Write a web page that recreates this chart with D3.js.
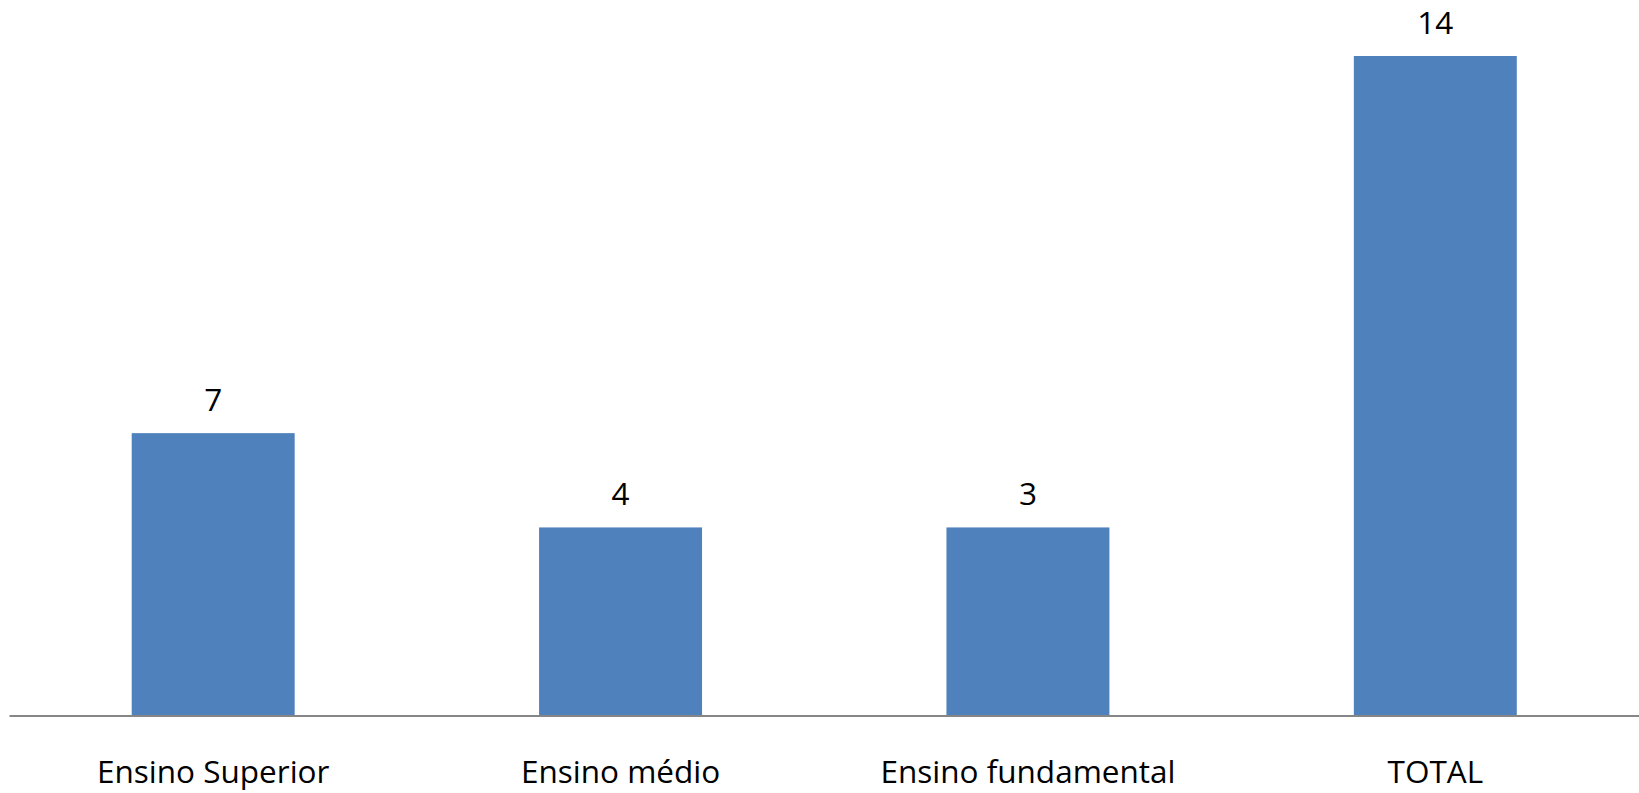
<!DOCTYPE html>
<html>
<head>
<meta charset="utf-8">
<script src="https://cdn.jsdelivr.net/npm/d3@7"></script>
<style>
  html, body { margin: 0; padding: 0; background: #fff; }
  svg { display: block; }
  text { font-family: "Open Sans", Lato, sans-serif; fill: #000; }
</style>
</head>
<body>
<svg id="chart" width="1639" height="793"></svg>
<script>
// Data
const categories = ["Ensino Superior", "Ensino médio", "Ensino fundamental", "TOTAL"];
const barValues = [3, 2, 2, 7];          // bar heights as drawn
const labelValues = ["7", "4", "3", "14"]; // data labels as printed

const W = 1639, H = 793;
const svg = d3.select("#chart");

const x = d3.scaleBand()
  .domain(categories)
  .range([9.5, 1639])
  .paddingInner(0.6)
  .paddingOuter(0.3);

const y = d3.scaleLinear()
  .domain([0, 7])
  .range([716, 56]);

// bars
svg.append("g").selectAll("rect")
  .data(categories)
  .join("rect")
  .attr("x", d => x(d))
  .attr("y", (d, i) => y(barValues[i]))
  .attr("width", x.bandwidth())
  .attr("height", (d, i) => y(0) - y(barValues[i]))
  .attr("fill", "#4F81BD");

// data labels
svg.append("g").selectAll("text")
  .data(categories)
  .join("text")
  .attr("x", d => x(d) + x.bandwidth() / 2)
  .attr("y", (d, i) => y(barValues[i]) - 22)
  .attr("text-anchor", "middle")
  .attr("font-size", 31.5)
  .text((d, i) => labelValues[i]);

// x axis
const xAxis = d3.axisBottom(x).tickSize(0).tickPadding(0);
const gx = svg.append("g")
  .attr("transform", `translate(0,${y(0)})`)
  .call(xAxis);
gx.select(".domain")
  .attr("stroke", "#868686")
  .attr("stroke-width", 2)
  .attr("d", `M9.5,0H1639`);
gx.selectAll(".tick text")
  .attr("font-size", 31.5)
  .attr("dy", null)
  .attr("y", 67)
  .style("font-family", "'Open Sans', Lato, sans-serif")
  .attr("fill", "#000");
</script>
</body>
</html>
